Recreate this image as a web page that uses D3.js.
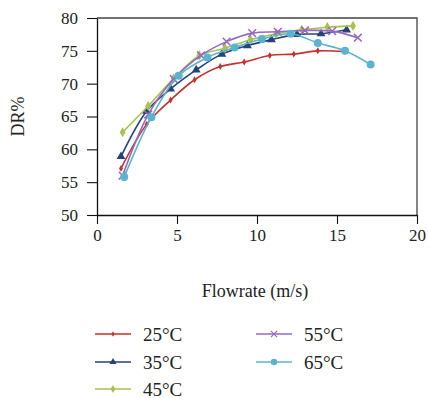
<!DOCTYPE html>
<html>
<head>
<meta charset="utf-8">
<script src="https://cdn.jsdelivr.net/npm/d3@7"></script>
<style>
  body { margin: 0; background: #fff; }
  svg text { font-family: "Liberation Serif", "DejaVu Serif", serif; fill: #222; }
</style>
</head>
<body>
<svg width="428" height="398"></svg>
<script>
// series (flowrate m/s, DR%)
var flow25 = [1.5, 3.1, 4.6, 6.1, 7.7, 9.2, 10.8, 12.3, 13.8, 15.5];
var dr25   = [57.1, 63.8, 67.5, 70.6, 72.6, 73.3, 74.3, 74.5, 75.0, 74.9];
var flow35 = [1.5, 3.1, 4.6, 6.2, 7.8, 9.4, 10.9, 12.5, 14.0, 15.6];
var dr35   = [58.9, 65.8, 69.2, 72.1, 74.5, 75.8, 76.7, 77.5, 77.6, 78.2];
var flow45 = [1.6, 3.2, 4.8, 6.4, 8.0, 9.6, 11.2, 12.8, 14.4, 16.0];
var dr45   = [62.6, 66.6, 70.8, 74.3, 75.4, 76.7, 77.6, 78.2, 78.6, 78.8];
var flow55 = [1.6, 3.2, 4.8, 6.5, 8.1, 9.7, 11.3, 13.0, 14.7, 16.3];
var dr55   = [56.0, 65.3, 70.7, 74.3, 76.4, 77.7, 77.9, 78.1, 78.0, 77.0];
var flow65 = [1.7, 3.4, 5.1, 6.9, 8.6, 10.3, 12.1, 13.8, 15.5, 17.1];
var dr65   = [55.8, 64.9, 71.2, 74.0, 75.5, 76.8, 77.6, 76.2, 75.0, 72.9];

var seriesNames = ["25°C", "35°C", "45°C", "55°C", "65°C"];
var colors = ["#c4322c", "#27417a", "#a9c24e", "#9468c2", "#5bb4cf"];
var xTicks = [0, 5, 10, 15, 20];
var yTicks = [50, 55, 60, 65, 70, 75, 80];

var series = [
  {name: seriesNames[0], x: flow25, y: dr25, sym: "plus"},
  {name: seriesNames[1], x: flow35, y: dr35, sym: "triangle"},
  {name: seriesNames[2], x: flow45, y: dr45, sym: "diamond"},
  {name: seriesNames[3], x: flow55, y: dr55, sym: "cross"},
  {name: seriesNames[4], x: flow65, y: dr65, sym: "circle"}
];

var svg = d3.select("svg"),
    margin = {top: 18, right: 11, bottom: 183, left: 97},
    width = 428 - margin.left - margin.right,
    height = 398 - margin.top - margin.bottom;

var x = d3.scaleLinear().domain([0, 20]).range([0, width]),
    y = d3.scaleLinear().domain([50, 80]).range([height, 0]);

var g = svg.append("g")
    .attr("transform", "translate(" + margin.left + "," + margin.top + ")");

// frame top / right
g.append("path")
    .attr("d", "M0,0H" + width + "V" + height)
    .attr("fill", "none")
    .attr("stroke", "#444")
    .attr("stroke-width", 1.3);

var xAxis = g.append("g")
    .attr("transform", "translate(0," + height + ")")
    .call(d3.axisBottom(x).tickValues(xTicks).tickSize(9).tickPadding(5).tickSizeOuter(0));
var yAxis = g.append("g")
    .call(d3.axisLeft(y).tickValues(yTicks).tickSize(10).tickPadding(9).tickSizeOuter(0));

[xAxis, yAxis].forEach(function(a) {
  a.select(".domain").attr("stroke", "#111").attr("stroke-width", 1.3);
  a.selectAll(".tick line").attr("stroke", "#111").attr("stroke-width", 1.1);
  a.selectAll("text")
    .attr("font-family", "Liberation Serif, serif")
    .attr("font-size", 17)
    .attr("fill", "#222");
});

g.append("text")
    .attr("text-anchor", "middle")
    .attr("transform", "translate(" + (-73) + "," + (height / 2) + ")rotate(-90)")
    .attr("font-size", 18)
    .text("DR%");

g.append("text")
    .attr("text-anchor", "middle")
    .attr("x", width / 2 - 2)
    .attr("y", height + 82)
    .attr("font-size", 18)
    .text("Flowrate (m/s)");

var line = d3.line()
    .curve(d3.curveCatmullRom.alpha(0.5))
    .x(function(d) { return x(d[0]); })
    .y(function(d) { return y(d[1]); });

function drawMarker(sel, sym, color) {
  if (sym === "plus") {
    sel.append("path").attr("d", d3.symbol(d3.symbolDiamond, 14)())
      .attr("fill", color);
  } else if (sym === "triangle") {
    sel.append("path").attr("d", d3.symbol(d3.symbolTriangle, 34)())
      .attr("fill", color);
  } else if (sym === "diamond") {
    sel.append("path").attr("d", d3.symbol(d3.symbolDiamond, 30)())
      .attr("fill", color);
  } else if (sym === "cross") {
    sel.append("path").attr("d", d3.symbol(d3.symbolX, 40)())
      .attr("fill", "none").attr("stroke", color).attr("stroke-width", 1.5);
  } else {
    sel.append("circle").attr("r", 4).attr("fill", color);
  }
}

series.forEach(function(s, i) {
  var pts = s.x.map(function(v, j) { return [v, s.y[j]]; });
  g.append("path")
      .datum(pts)
      .attr("fill", "none")
      .attr("stroke", colors[i])
      .attr("stroke-width", 1.6)
      .attr("d", line);
  g.selectAll(".m" + i)
      .data(pts)
    .enter().append("g")
      .attr("class", "m" + i)
      .attr("transform", function(d) { return "translate(" + x(d[0]) + "," + y(d[1]) + ")"; })
      .each(function() { drawMarker(d3.select(this), s.sym, colors[i]); });
});

// legend
var legendPos = [[95, 334], [95, 362], [95, 389], [256, 334], [256, 362]];
var legend = svg.selectAll(".legend")
    .data(series)
  .enter().append("g")
    .attr("class", "legend")
    .attr("transform", function(d, i) { return "translate(" + legendPos[i][0] + "," + legendPos[i][1] + ")"; });

legend.append("line")
    .attr("x1", 0).attr("x2", 36)
    .attr("stroke", function(d, i) { return colors[i]; })
    .attr("stroke-width", 1.6);
legend.append("g")
    .attr("transform", "translate(18,0)")
    .each(function(d, i) {
      var m = d3.select(this).attr("transform", "translate(18,0) scale(0.8)");
      drawMarker(m, d.sym, colors[i]);
    });
legend.append("text")
    .attr("x", 48)
    .attr("y", 6.5)
    .attr("font-size", 19)
    .text(function(d) { return d.name; });
</script>
</body>
</html>
